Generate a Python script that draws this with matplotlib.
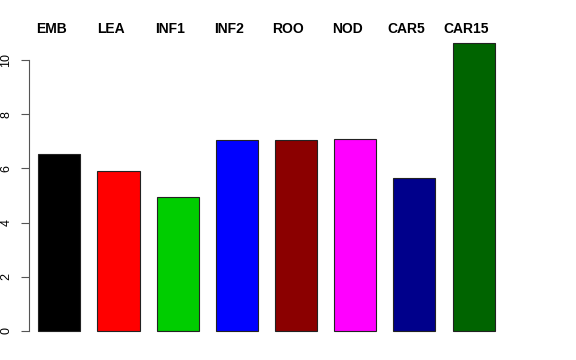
import matplotlib.pyplot as plt
import numpy as np

# group names and mean values
groups = ["EMB", "LEA", "INF1", "INF2", "ROO", "NOD", "CAR5", "CAR15"]
values = [6.54, 5.89, 4.93, 7.03, 7.06, 7.08, 5.63, 10.63]
colors = ["black", "red", "#00CD00", "blue", "#8B0000", "magenta", "#00008B", "#006400"]


def main():
    fig = plt.figure(figsize=(5.76, 3.6), dpi=100)
    ax = fig.add_axes([28.5 / 576, 17.5 / 360, 475 / 576, 311 / 360])

    x = np.arange(len(groups))
    ax.bar(x, values, width=0.71, color=colors, edgecolor="#222222", linewidth=0.8)

    # 59.2 px per group, first bar centred at 59.3 px
    ax.set_xlim(-0.52, -0.52 + 475 / 59.2)
    ax.set_ylim(-0.425, 11.05)

    # group labels above plot, bold
    for xi, name in zip(x, groups):
        ax.text(xi - 0.135, 1.0 + (31.5 - 29.3) / 311, name,
                transform=ax.get_xaxis_transform(),
                ha="center", va="center", fontsize=10, fontweight="bold",
                family="Liberation Sans")

    ax.set_yticks([0, 2, 4, 6, 8, 10])
    ax.set_yticklabels(["0", "2", "4", "6", "8", "10"], rotation=90, va="center",
                       fontsize=9, family="Liberation Sans")
    ax.tick_params(axis="y", length=6, width=0.8, color="#555555", pad=5.5)
    ax.spines["left"].set_bounds(0, 10)
    ax.spines["left"].set_color("#555555")
    ax.spines["left"].set_linewidth(0.8)
    for s in ["top", "right", "bottom"]:
        ax.spines[s].set_visible(False)
    ax.set_xticks([])

    fig.savefig("out.png", dpi=100)


if __name__ == "__main__":
    main()
